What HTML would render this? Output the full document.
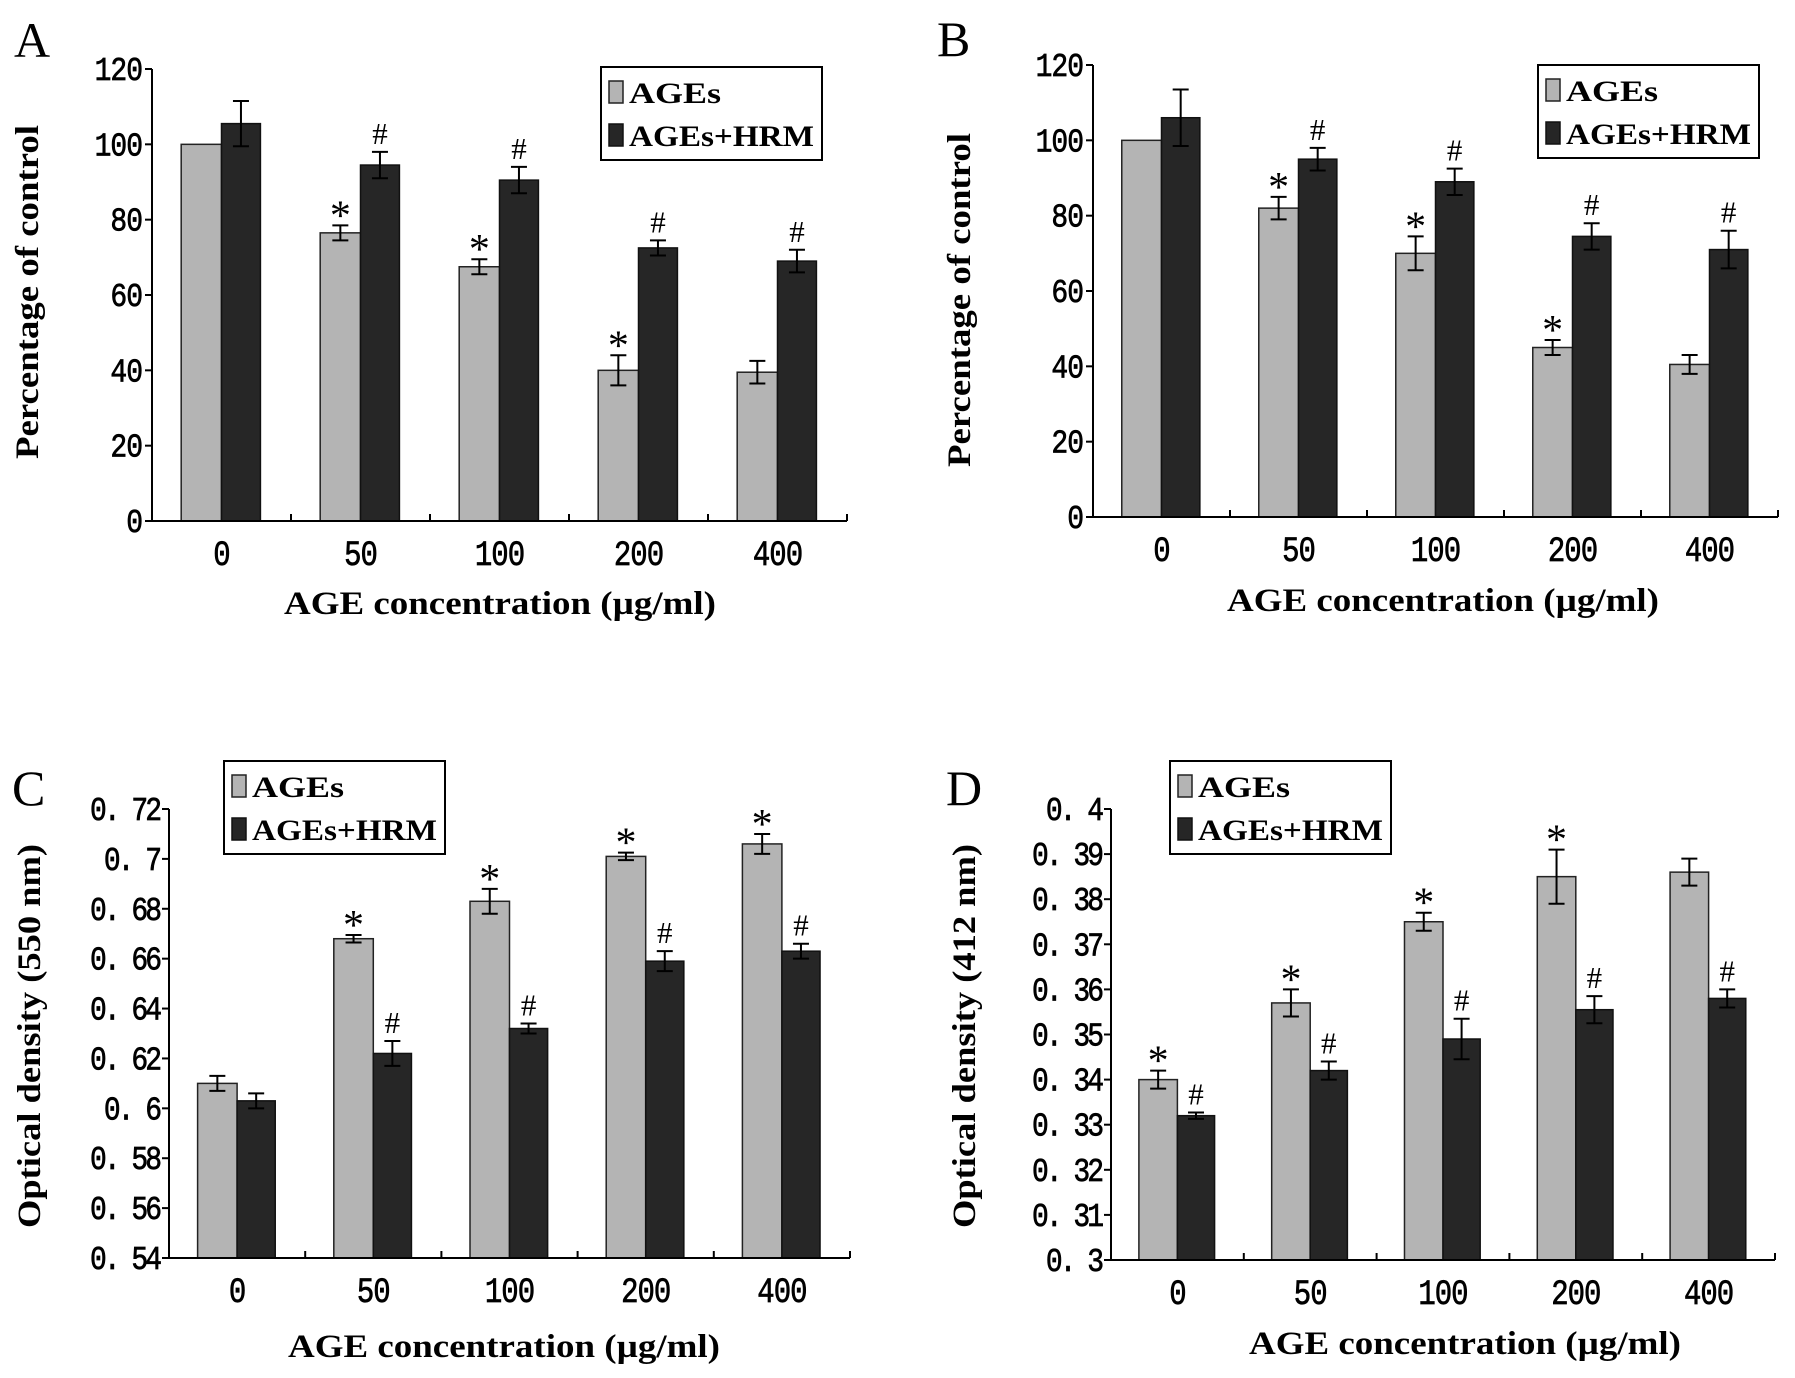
<!DOCTYPE html>
<html><head><meta charset="utf-8"><style>
html,body{margin:0;padding:0;background:#fff;}
svg{display:block;}
</style></head><body>
<svg id="fig" width="1795" height="1378" xmlns="http://www.w3.org/2000/svg"></svg>
<script>
const categories = ["0","50","100","200","400"];
const aGray = [100,76.5,67.5,40,39.5];
const aGrayErr = [0,2,2,4,3];
const aDark = [105.5,94.5,90.5,72.5,69];
const aDarkErr = [6,3.5,3.5,2,3];
const aStars = [false,true,true,true,false];
const aHash = [false,true,true,true,true];
const aTicks = ["0","20","40","60","80","100","120"];

const bGray = [100,82,70,45,40.5];
const bGrayErr = [0,3,4.5,2,2.5];
const bDark = [106,95,89,74.5,71];
const bDarkErr = [7.5,3,3.5,3.5,5];
const bStars = [false,true,true,true,false];
const bHash = [false,true,true,true,true];
const bTicks = ["0","20","40","60","80","100","120"];

const cGray = [0.610,0.668,0.683,0.701,0.706];
const cGrayErr = [0.003,0.0015,0.005,0.0015,0.004];
const cDark = [0.603,0.622,0.632,0.659,0.663];
const cDarkErr = [0.003,0.005,0.002,0.004,0.003];
const cStars = [false,true,true,true,true];
const cHash = [false,true,true,true,true];
const cTicks = ["0.54","0.56","0.58","0.6","0.62","0.64","0.66","0.68","0.7","0.72"];

const dGray = [0.340,0.357,0.375,0.385,0.386];
const dGrayErr = [0.002,0.003,0.002,0.006,0.003];
const dDark = [0.332,0.342,0.349,0.3555,0.358];
const dDarkErr = [0.0007,0.002,0.0045,0.003,0.002];
const dStars = [true,true,true,true,false];
const dHash = [true,true,true,true,true];
const dTicks = ["0.3","0.31","0.32","0.33","0.34","0.35","0.36","0.37","0.38","0.39","0.4"];

const NS = "http://www.w3.org/2000/svg";
const svg = document.getElementById('fig');
function mk(tag, attrs, parent, text){
  const e = document.createElementNS(NS, tag);
  for (const k in attrs) e.setAttribute(k, attrs[k]);
  if (text !== undefined) e.textContent = text;
  (parent||svg).appendChild(e);
  return e;
}
function fmtTick(t){ return t.replace(/^0\./,"0. "); }

function panel(p){
  const g = mk('g', {});
  
  
  const ymin = parseFloat(p.ticks[0]), ymax = parseFloat(p.ticks[p.ticks.length-1]);
  const yS = v => p.bottom - (v - ymin) / (ymax - ymin) * (p.bottom - p.top);
  const W = (p.right - p.x0) / categories.length;
  const xS = i => p.x0 + i * W;

  const letter = mk('text', {x:p.lx, y:p.ly, 'font-family':'Liberation Serif, serif', 'font-size':50}, g, p.id.toUpperCase());
  
  

  categories.forEach((c, i) => {
    const gx = xS(i) + 0.21 * W, bw = 0.29 * W, dx = xS(i) + 0.50 * W, dw = 0.28 * W;
    const gy = yS(p.gray[i]), dy = yS(p.dark[i]);
    const r1 = mk('rect', {x:gx, y:gy, width:bw, height:p.bottom-gy, fill:'#b4b4b4', stroke:'#222', 'stroke-width':1.5}, g);
    
    
    const r2 = mk('rect', {x:dx, y:dy, width:dw, height:p.bottom-dy, fill:'#262626', stroke:'#111', 'stroke-width':1.5}, g);
    
    
    [[gx+bw/2, p.gray[i], p.grayErr[i]], [dx+dw/2, p.dark[i], p.darkErr[i]]].forEach(([cx, v, e], k) => {
      if (e <= 0) return;
      const y1 = yS(v + e), y2 = yS(v - e);
      const eb = mk('path', {d:`M${cx},${y1}V${y2}M${cx-8},${y1}H${cx+8}M${cx-8},${y2}H${cx+8}`, stroke:'#000', 'stroke-width':2, fill:'none'}, g);
      
      
    });
    if (p.stars[i]) {
      const s = mk('text', {x:gx+bw/2, y:yS(p.gray[i]+p.grayErr[i]) + 4, 'text-anchor':'middle', 'font-family':'Liberation Serif, serif', 'font-size':42}, g, '*');
      
      
    }
    if (p.hash[i]) {
      const h = mk('text', {x:dx+dw/2, y:yS(p.dark[i]+p.darkErr[i]) - 8, 'text-anchor':'middle', 'font-family':'Liberation Serif, serif', 'font-size':31}, g, '#');
      
      
    }
    const xl = mk('text', {x:xS(i)+W/2, y:p.bottom+44, 'text-anchor':'middle', 'font-family':'Liberation Mono, monospace', 'font-size':29, stroke:'#000', 'stroke-width':0.6, 'letter-spacing':-1, transform:`translate(0,${p.bottom+44}) scale(1,1.2) translate(0,${-(p.bottom+44)})`}, g, c);
    
    
  });

  const ax = mk('path', {d:`M${p.x0},${p.top}V${p.bottom}H${p.right}`, stroke:'#000', 'stroke-width':2, fill:'none'}, g);
  
  
  for (let i = 1; i <= categories.length; i++) {
    mk('line', {x1:xS(i), x2:xS(i), y1:p.bottom, y2:p.bottom-7, stroke:'#000', 'stroke-width':2}, g);
  }
  p.ticks.forEach(t => {
    const y = yS(parseFloat(t));
    mk('line', {x1:p.x0-7, x2:p.x0, y1:y, y2:y, stroke:'#000', 'stroke-width':2}, g);
    const dec = t.indexOf('.') >= 0;
    const tl = mk('text', {x:p.x0-10, y:y+11, 'text-anchor':'end', 'font-family':'Liberation Mono, monospace', 'font-size':28, stroke:'#000', 'stroke-width':0.6, 'letter-spacing': dec ? -3 : -1, transform:`translate(0,${y+11}) scale(1,1.2) translate(0,${-(y+11)})`}, g, fmtTick(t));
    
    
  });

  const yt = mk('text', {x:0, y:0, 'text-anchor':'middle', 'font-family':'Liberation Serif, serif', 'font-weight':'bold', 'font-size':33, textLength:p.ytLen, lengthAdjust:'spacingAndGlyphs', transform:`translate(${p.ytx},${p.yty}) rotate(-90)`}, g, p.ytitle);
  
  
  const xt = mk('text', {x:p.xtx, y:p.xty, 'text-anchor':'middle', 'font-family':'Liberation Serif, serif', 'font-weight':'bold', 'font-size':33, textLength:432, lengthAdjust:'spacingAndGlyphs'}, g, 'AGE concentration (µg/ml)');
  
  

  const lg = mk('g', {}, g);
  
  
  mk('rect', {x:p.lgx, y:p.lgy, width:221, height:93, fill:'#fff', stroke:'#000', 'stroke-width':2}, lg);
  const e1 = mk('g', {}, lg);
  
  
  mk('rect', {x:p.lgx+8, y:p.lgy+14, width:14, height:22, fill:'#b4b4b4', stroke:'#222', 'stroke-width':1.5}, e1);
  mk('text', {x:p.lgx+28, y:p.lgy+36, 'font-family':'Liberation Serif, serif', 'font-weight':'bold', 'font-size':30, textLength:92, lengthAdjust:'spacingAndGlyphs'}, e1, 'AGEs');
  const e2 = mk('g', {}, lg);
  
  
  mk('rect', {x:p.lgx+8, y:p.lgy+57, width:14, height:22, fill:'#262626', stroke:'#111', 'stroke-width':1.5}, e2);
  mk('text', {x:p.lgx+28, y:p.lgy+79, 'font-family':'Liberation Serif, serif', 'font-weight':'bold', 'font-size':30, textLength:185, lengthAdjust:'spacingAndGlyphs'}, e2, 'AGEs+HRM');
}

panel({id:'a', gray:aGray, grayErr:aGrayErr, dark:aDark, darkErr:aDarkErr, stars:aStars, hash:aHash, ticks:aTicks,
  x0:152, top:69, bottom:521, right:847, lx:14, ly:57,
  ytitle:'Percentage of control', ytLen:334, ytx:38, yty:292, xtx:500, xty:614, lgx:601, lgy:67});
panel({id:'b', gray:bGray, grayErr:bGrayErr, dark:bDark, darkErr:bDarkErr, stars:bStars, hash:bHash, ticks:bTicks,
  x0:1093, top:65, bottom:517, right:1778, lx:937, ly:56,
  ytitle:'Percentage of control', ytLen:334, ytx:970, yty:300, xtx:1443, xty:611, lgx:1538, lgy:65});
panel({id:'c', gray:cGray, grayErr:cGrayErr, dark:cDark, darkErr:cDarkErr, stars:cStars, hash:cHash, ticks:cTicks,
  x0:169, top:809, bottom:1258, right:850, lx:12, ly:805,
  ytitle:'Optical density (550 nm)', ytLen:384, ytx:40, yty:1036, xtx:504, xty:1357, lgx:224, lgy:761});
panel({id:'d', gray:dGray, grayErr:dGrayErr, dark:dDark, darkErr:dDarkErr, stars:dStars, hash:dHash, ticks:dTicks,
  x0:1111, top:809, bottom:1260, right:1775, lx:946, ly:805,
  ytitle:'Optical density (412 nm)', ytLen:384, ytx:975, yty:1036, xtx:1465, xty:1354, lgx:1170, lgy:761});
</script>
</body></html>
